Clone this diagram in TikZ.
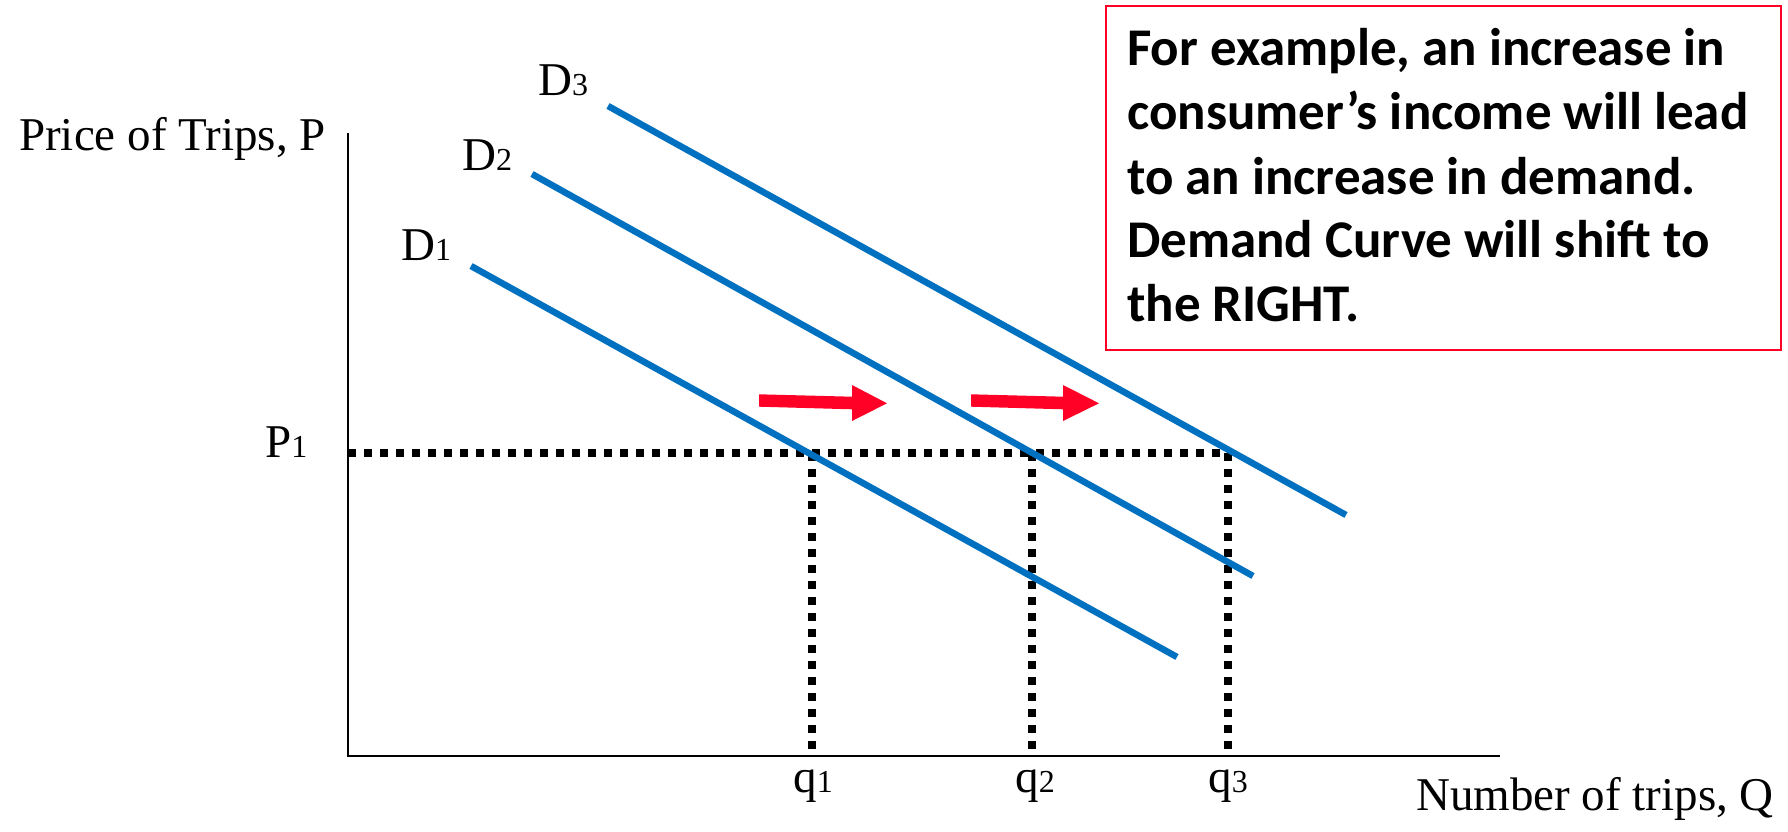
\documentclass[tikz,border=0pt]{standalone}
\usepackage{fontspec}
\setmainfont{Liberation Serif}
\newfontfamily\boxfont{Carlito}
\definecolor{dblue}{RGB}{0,112,192}
\definecolor{sred}{RGB}{255,0,38}
\newcommand{\sublab}[2]{#1{\fontsize{32}{32}\selectfont #2}}
\begin{document}
\begin{tikzpicture}[x=1pt,y=-1pt,
  axis/.style={line width=2.5pt,black},
  demand/.style={line width=6.5pt,dblue},
  guide/.style={line width=7.5pt,black,dash pattern=on 7.5pt off 8.5pt},
  shiftarrow/.style={fill=sred,draw=none},
  lbl/.style={inner sep=0pt,font=\fontsize{47}{47}\selectfont},
  note/.style={inner sep=0pt,anchor=base west,font=\boxfont\bfseries\fontsize{53}{53}\selectfont}]
\useasboundingbox (0,0) rectangle (1788,832);
% axes
\coordinate (O) at (348,756);
\coordinate (Ytop) at (348,133);
\coordinate (Xend) at (1500,756);
\draw[axis] (Ytop) -- (O) -- (Xend);
% guides
\coordinate (P1a) at (348,453);
\coordinate (Q1top) at (812,453);
\coordinate (Q2top) at (1032,453);
\coordinate (Q3top) at (1228,453);
\coordinate (Q1bot) at (812,752);
\coordinate (Q2bot) at (1032,756);
\coordinate (Q3bot) at (1228,756);
\draw[guide] (P1a) -- (Q3top);
\draw[guide] (Q1top) -- (Q1bot);
\draw[guide] (Q2top) -- (Q2bot);
\draw[guide] (Q3top) -- (Q3bot);
% demand curves
\coordinate (D1s) at (471,266); \coordinate (D1e) at (1177,657);
\coordinate (D2s) at (532,174); \coordinate (D2e) at (1253,576);
\coordinate (D3s) at (608,106); \coordinate (D3e) at (1346,515);
\draw[demand] (D1s) -- (D1e);
\draw[demand] (D2s) -- (D2e);
\draw[demand] (D3s) -- (D3e);
% shift arrows
\fill[shiftarrow] (759,394.3) -- (852,396.7) -- (852,385) -- (887,403.3) -- (852,421) -- (852,409.3) -- (759,406.7) -- cycle;
\fill[shiftarrow] (971,394.3) -- (1063,396.7) -- (1063,385) -- (1099,403.3) -- (1063,421) -- (1063,409.3) -- (971,406.7) -- cycle;
% labels
\node[lbl,anchor=base west] (ylab) at (19,150) {Price of Trips, P};
\node[lbl,anchor=base east] (xlab) at (1774,810) {Number of trips, Q};
\node[lbl,anchor=base west] (d3) at (538,96) {\sublab{D}{3}};
\node[lbl,anchor=base west] (d2) at (462,170) {\sublab{D}{2}};
\node[lbl,anchor=base west] (d1) at (401,260) {\sublab{D}{1}};
\node[lbl,anchor=base west] (p1) at (265,457) {\sublab{P}{1}};
\node[lbl,anchor=base] (q1) at (813,792) {\sublab{q}{1}};
\node[lbl,anchor=base] (q2) at (1035,792) {\sublab{q}{2}};
\node[lbl,anchor=base] (q3) at (1228,792) {\sublab{q}{3}};
% note box
\draw[sred,line width=2.5pt] (1106,6) rectangle (1781,350);
\node[note] (n1) at (1127,66) {For example, an increase in};
\node[note] (n2) at (1127,130) {consumer’s income will lead};
\node[note] (n3) at (1127,194) {to an increase in demand.};
\node[note] (n4) at (1127,257) {Demand Curve will shift to};
\node[note] (n5) at (1127,321) {the RIGHT.};
\end{tikzpicture}
\end{document}
